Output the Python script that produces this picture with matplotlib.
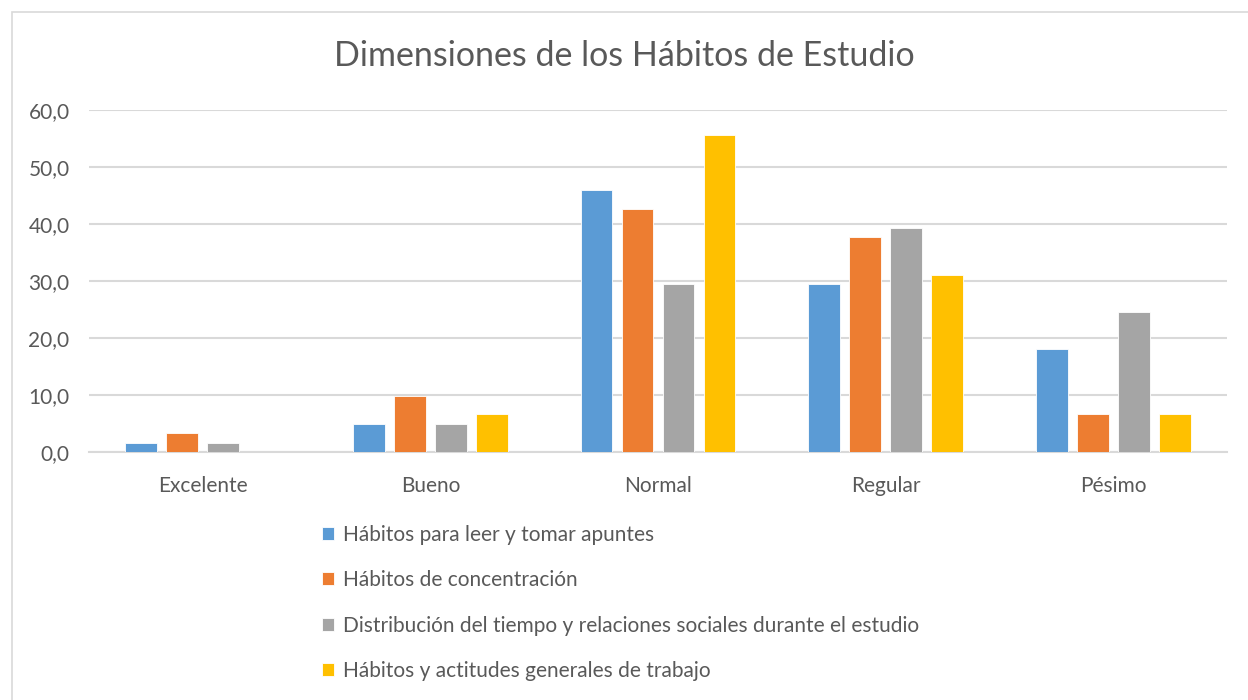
from matplotlib import pyplot as plt
from matplotlib.ticker import FuncFormatter
from matplotlib.patches import Rectangle
import numpy as np

categories = ['Excelente', 'Bueno', 'Normal', 'Regular', 'Pésimo']
series_names = [
    'Hábitos para leer y tomar apuntes',
    'Hábitos de concentración',
    'Distribución del tiempo y relaciones sociales durante el estudio',
    'Hábitos y actitudes generales de trabajo',
]
leer = [1.6, 4.9, 45.9, 29.5, 18.0]
concentracion = [3.3, 9.8, 42.6, 37.7, 6.6]
distribucion = [1.6, 4.9, 29.5, 39.3, 24.6]
actitudes = [0.0, 6.6, 55.7, 31.1, 6.6]
colors = ['#5b9bd5', '#ed7d31', '#a5a5a5', '#ffc000']

plt.rcParams['font.family'] = ['Lato', 'DejaVu Sans']

fig = plt.figure(figsize=(12.48, 7), dpi=100)
# chart frame
fig.patches.append(Rectangle((12 / 1248, -0.01), 1.1, 1 - 12 / 700 + 0.01,
                             transform=fig.transFigure, fill=False,
                             edgecolor='#d9d9d9', linewidth=1.2))

ax = fig.add_axes([89 / 1248, 1 - 452 / 700, 1138 / 1248, 342 / 700])
x = np.arange(len(categories))
step, width = 0.18, 0.14
for i, (vals, name) in enumerate(zip([leer, concentracion, distribucion, actitudes], series_names)):
    ax.bar(x + (i - 1.5) * step, vals, width, color=colors[i], label=name,
           edgecolor='white', linewidth=0.6, zorder=3)

ax.set_xlim(-0.5, len(categories) - 0.5)
ax.set_ylim(0, 60)
ax.set_yticks(np.arange(0, 61, 10))
ax.yaxis.set_major_formatter(FuncFormatter(lambda v, p: f'{v:.1f}'.replace('.', ',')))
ax.set_xticks(x)
ax.set_xticklabels(categories)
ax.grid(axis='y', color='#d9d9d9', linewidth=1.5, zorder=0)
for s in ['top', 'right', 'left']:
    ax.spines[s].set_visible(False)
ax.spines['bottom'].set_color('#d9d9d9')
ax.spines['bottom'].set_linewidth(1.5)
ax.tick_params(axis='both', length=0, labelsize=15, colors='#595959')
ax.tick_params(axis='x', pad=17)
ax.tick_params(axis='y', pad=14)

fig.text(0.5, 1 - 56 / 700, 'Dimensiones de los Hábitos de Estudio', ha='center', va='center',
         fontsize=24.5, color='#595959')

fig.legend(loc='upper left', bbox_to_anchor=(303 / 1248, 1 - 506 / 700), frameon=False,
           fontsize=15, labelcolor='#595959', handlelength=0.6, handleheight=0.6,
           handletextpad=0.4, labelspacing=1.22)

fig.savefig('out.png', dpi=100, facecolor='white')
